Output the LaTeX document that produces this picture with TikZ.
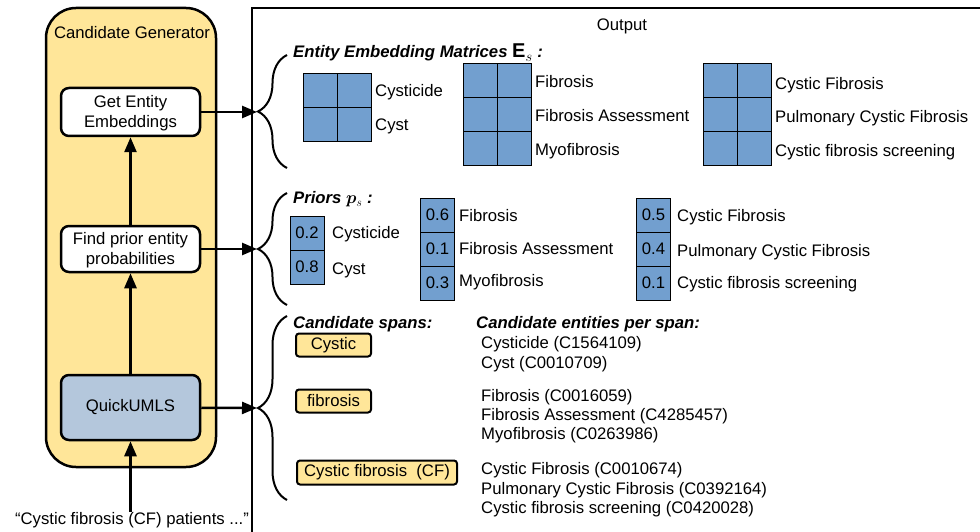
\documentclass[tikz,border=0pt]{standalone}
\usepackage{amsmath}
\usepackage{fontspec}
\setmainfont{Liberation Sans}
\usetikzlibrary{arrows.meta,decorations.pathreplacing}
\definecolor{genyellow}{HTML}{FFE699}
\definecolor{cellblue}{HTML}{729FCF}
\definecolor{umlsblue}{HTML}{B4C7DC}
\newcommand{\txt}{\fontsize{16.7}{19.5}\selectfont}

\begin{document}
\begin{tikzpicture}[x=1pt,y=-1pt,
    genbox/.style={draw,line width=2.5pt,rounded corners=30pt,fill=genyellow,minimum width=170pt,minimum height=459pt},
    stepbox/.style={draw,line width=2.5pt,rounded corners=8pt,fill=white,minimum width=139pt,align=center,font=\txt,inner sep=2pt},
    flow/.style={line width=2.5pt,-{Triangle[length=15pt,width=12pt]}},
    curly/.style={line width=2pt,decorate,decoration={brace,amplitude=29pt}},
    lbl/.style={anchor=west,inner sep=0pt,font=\txt,text height=12pt,text depth=0pt},
    headtxt/.style={lbl,font=\txt\bfseries\itshape},
    cellbox/.style={draw,line width=1pt,fill=cellblue},
    prior/.style={cellbox,minimum size=34pt,inner sep=0pt,font=\txt},
    spanbox/.style={draw,line width=2pt,rounded corners=3pt,fill=genyellow,minimum height=23pt,inner sep=0pt,font=\txt}]
			\useasboundingbox (0,0) rectangle (980,532);
			%%%%% CANDIDATE GENERATOR %%%%%
			\node[genbox] (gen) at (131,237.5) {};
			\node[lbl,anchor=center] (gentitle) at (132,33) {Candidate Generator};
			\node[stepbox,minimum height=48pt] (emb) at (130.5,112) {\rule{0pt}{14pt}Get Entity\\Embeddings};
			\node[stepbox,minimum height=46pt] (find) at (130.5,249) {\rule{0pt}{14pt}Find prior entity\\probabilities};
			\node[stepbox,minimum height=65pt,fill=umlsblue] (umls) at (130.5,407.5) {QuickUMLS};
			\node[lbl,anchor=center] (input) at (132,518) {“Cystic fibrosis (CF) patients ...”};
			
			\draw[flow] (input.north -| umls.south) -- (umls.south);
			\draw[flow] (umls) -- (find);
			\draw[flow] (find) -- (emb);
			
			%%%%% OUTPUT %%%%%
			\draw[line width=2.5pt] (980,8) -- (252,8) -- (252,532);
			\node[lbl,anchor=center] (outtitle) at (622,25) {Output};
			
			\coordinate (embtip) at (257,112);
			\coordinate (priortip) at (257,249);
			\coordinate (spantip) at (257,408);
			\draw[flow] (emb) -- (embtip);
			\draw[flow] (find) -- (priortip);
			\draw[flow] (umls) -- (spantip);
			
			\draw[curly] (287,168) -- (287,55);
			\draw[curly] (287,305) -- (287,193);
			\draw[curly] (287,500) -- (287,316);
			
			%%%%% EMBEDDINGS %%%%%
			\node[headtxt] (embhead) at (293,52) {Entity Embedding Matrices {\fontsize{20}{20}\selectfont$\mathbf{E}_s$} :};
			
			\draw[cellbox] (303,74) rectangle (371,142);
			\draw[line width=1pt] (337,74) -- (337,142) (303,108) -- (371,108);
			\node[lbl] (ma1) at (375,91) {Cysticide};
			\node[lbl] (ma2) at (375,125) {Cyst};
			
			\draw[cellbox] (463,64) rectangle (531,166);
			\draw[line width=1pt] (497,64) -- (497,166) (463,98) -- (531,98) (463,132) -- (531,132);
			\node[lbl] (mb1) at (535,82) {Fibrosis};
			\node[lbl] (mb2) at (535,116) {Fibrosis Assessment};
			\node[lbl] (mb3) at (535,150) {Myofibrosis};
			
			\draw[cellbox] (703,64) rectangle (771,166);
			\draw[line width=1pt] (737,64) -- (737,166) (703,98) -- (771,98) (703,132) -- (771,132);
			\node[lbl] (mc1) at (775,84) {Cystic Fibrosis};
			\node[lbl] (mc2) at (775,117) {Pulmonary Cystic Fibrosis};
			\node[lbl] (mc3) at (775,151) {Cystic fibrosis screening};
			
			%%%%% PRIORS %%%%%
			\node[headtxt] (priorhead) at (293,197) {Priors $\boldsymbol{p}_s$ :};
			
			\node[prior] (pa1) at (307,233) {0.2};
			\node[prior] (pa2) at (307,267) {0.8};
			\node[lbl] (pla1) at (332,232) {Cysticide};
			\node[lbl] (pla2) at (332,268) {Cyst};
			
			\node[prior] (pb1) at (437.5,215) {0.6};
			\node[prior] (pb2) at (437.5,249) {0.1};
			\node[prior] (pb3) at (437.5,283) {0.3};
			\node[lbl] (plb1) at (459,215) {Fibrosis};
			\node[lbl] (plb2) at (459,248) {Fibrosis Assessment};
			\node[lbl] (plb3) at (459,280) {Myofibrosis};
			
			\node[prior] (pc1) at (653.5,215) {0.5};
			\node[prior] (pc2) at (653.5,249) {0.4};
			\node[prior] (pc3) at (653.5,283) {0.1};
			\node[lbl] (plc1) at (677,215) {Cystic Fibrosis};
			\node[lbl] (plc2) at (677,250) {Pulmonary Cystic Fibrosis};
			\node[lbl] (plc3) at (677,282) {Cystic fibrosis screening};
			
			%%%%% SPANS %%%%%
			\node[headtxt] (spanhead) at (293,322) {Candidate spans:};
			\node[headtxt] (enthead) at (476,322) {Candidate entities per span:};
			
			\node[spanbox,minimum width=75pt] (spana) at (333.5,345) {Cystic};
			\node[spanbox,minimum width=75pt] (spanb) at (333.5,401) {fibrosis};
			\node[spanbox,minimum width=160pt,minimum height=24pt] (spanc) at (377,472.5) {Cystic fibrosis\ \ (CF)};
			
			\node[lbl] (ea1) at (481,342) {Cysticide (C1564109)};
			\node[lbl] (ea2) at (481,362) {Cyst (C0010709)};
			\node[lbl] (eb1) at (481,395) {Fibrosis (C0016059)};
			\node[lbl] (eb2) at (481,414) {Fibrosis Assessment (C4285457)};
			\node[lbl] (eb3) at (481,433) {Myofibrosis (C0263986)};
			\node[lbl] (ec1) at (481,468) {Cystic Fibrosis (C0010674)};
			\node[lbl] (ec2) at (481,488) {Pulmonary Cystic Fibrosis (C0392164)};
			\node[lbl] (ec3) at (481,507) {Cystic fibrosis screening (C0420028)};
			%%%%% END %%%%%
		\end{tikzpicture}
\end{document}
